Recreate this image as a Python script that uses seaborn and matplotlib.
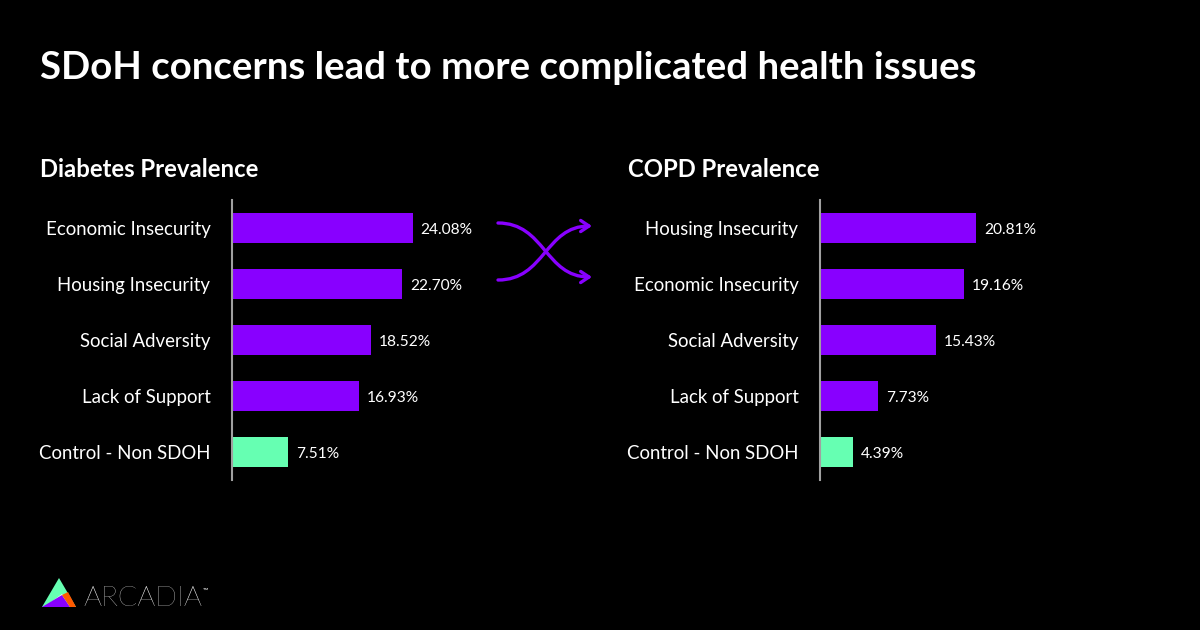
import matplotlib
matplotlib.use("Agg")
import matplotlib.pyplot as plt
import seaborn as sns
import pandas as pd
from matplotlib.path import Path
from matplotlib.patches import FancyArrowPatch, Polygon

# ---- data ----
diabetes_categories = ["Economic Insecurity", "Housing Insecurity", "Social Adversity",
                       "Lack of Support", "Control - Non SDOH"]
diabetes_values = [24.08, 22.70, 18.52, 16.93, 7.51]
copd_categories = ["Housing Insecurity", "Economic Insecurity", "Social Adversity",
                   "Lack of Support", "Control - Non SDOH"]
copd_values = [20.81, 19.16, 15.43, 7.73, 4.39]
groups = ["SDoH", "SDoH", "SDoH", "SDoH", "Control"]

title = "SDoH concerns lead to more complicated health issues"
left_title = "Diabetes Prevalence"
right_title = "COPD Prevalence"

PURPLE = "#8800FF"
GREEN = "#66FFB2"
BG = "#000000"

sns.set_theme(style="white")
plt.rcParams["font.family"] = ["Lato", "DejaVu Sans"]

W, H = 1200, 630
fig = plt.figure(figsize=(12, 6.3), dpi=100, facecolor=BG)

def fx(px):
    return px / W

def fy(py):
    return 1 - py / H

palette = {"SDoH": PURPLE, "Control": GREEN}

def draw_panel(left_px, cats, vals, heading, heading_x):
    ax = fig.add_axes([fx(left_px), fy(480), fx(225), 280 / H])
    ax.set_facecolor(BG)
    df = pd.DataFrame({"cat": cats, "val": vals, "grp": groups})
    sns.barplot(data=df, y="cat", x="val", hue="grp", palette=palette,
                orient="h", width=0.54, dodge=False, legend=False, ax=ax,
                saturation=1, linewidth=0, edgecolor="none")
    ax.set_xlim(0, 30)
    ax.set_ylim(4.5, -0.5)
    ax.set_xlabel("")
    ax.set_ylabel("")
    ax.set_xticks([])
    for s in ["top", "right", "bottom"]:
        ax.spines[s].set_visible(False)
    ax.spines["left"].set_color("#a0a0a0")
    ax.spines["left"].set_linewidth(1.5)
    ax.tick_params(axis="y", length=0, pad=15.5, labelsize=13.4, labelcolor="white")
    for i, v in enumerate(vals):
        ax.text(v + 1.05, i + 0.03, f"{v:.2f}%", color="white", fontsize=11.2,
                va="center", ha="left")
    fig.text(fx(heading_x), fy(170), heading, color="white", fontsize=17.2,
             fontweight="bold", va="center", ha="left")
    return ax

draw_panel(232, diabetes_categories, diabetes_values, left_title, 40)
draw_panel(820, copd_categories, copd_values, right_title, 628)

fig.text(fx(40), fy(68), title, color="white", fontsize=27.6, fontweight="bold",
         va="center", ha="left")

# crossing arrows
def pts(p):
    return [(fx(x), fy(y)) for x, y in p]

p1 = Path(pts([(498, 223), (545, 223), (545, 277), (592, 277)]),
          [Path.MOVETO, Path.CURVE4, Path.CURVE4, Path.CURVE4])
p2 = Path(pts([(498, 280), (545, 280), (545, 226), (592, 226)]),
          [Path.MOVETO, Path.CURVE4, Path.CURVE4, Path.CURVE4])
for p in (p1, p2):
    arr = FancyArrowPatch(path=p, transform=fig.transFigure,
                          arrowstyle="->,head_length=6,head_width=4",
                          color=PURPLE, lw=2.4)
    fig.add_artist(arr)

# logo
tri = [
    ([(42, 607), (59, 578), (76, 607)], "#66FFB2"),
    ([(47, 605), (62, 594), (70, 607)], "#FFFFFF"),
    ([(42, 607), (62, 595), (70, 607)], "#8800FF"),
    ([(62, 595), (68, 592), (76, 607), (70, 607)], "#FF5A00"),
]
for poly, c in tri:
    fig.add_artist(Polygon(pts(poly), closed=True, transform=fig.transFigure,
                           facecolor=c, edgecolor="none"))
fig.text(fx(83), fy(598), "ARCADIA", color="white", fontsize=20.5,
         fontweight="light", va="center", ha="left", family=["Lato", "DejaVu Sans"])
fig.text(fx(203), fy(590), "™", color="white", fontsize=5, va="center", ha="left")

fig.savefig("out.png", dpi=100, facecolor=BG)
